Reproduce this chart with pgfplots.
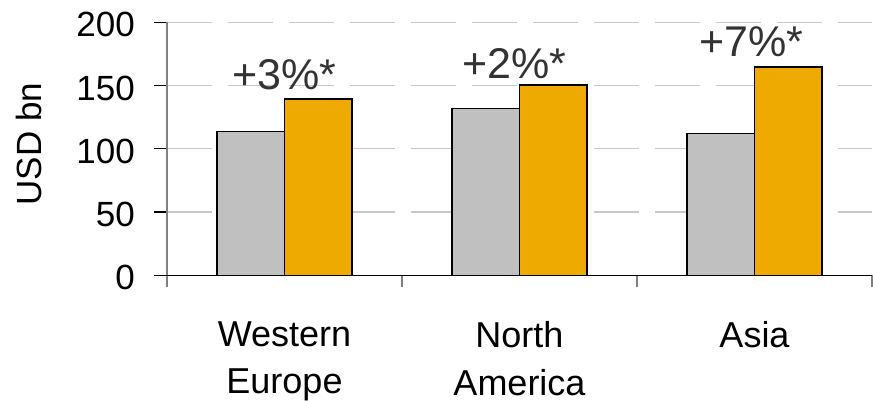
\documentclass[border=0pt]{standalone}
\usepackage{pgfplots}
\pgfplotsset{compat=1.18}
\usepackage{fontspec}
\setmainfont{Liberation Sans}
\definecolor{bargray}{RGB}{192,192,192}
\definecolor{barorange}{RGB}{238,170,0}
\definecolor{gridgray}{RGB}{200,200,200}
\definecolor{labelgray}{RGB}{51,51,51}
\begin{document}
\begin{tikzpicture}
\begin{axis}[name=ax, scale only axis, width=705bp, height=253bp,
    ybar=0pt, bar width=67.5bp,
    xmin=0.5, xmax=3.5, ymin=0, ymax=200,
    axis x line*=bottom, axis y line*=left,
    x axis line style={black, line width=1.2bp},
    y axis line style={gray, line width=1.2bp},
    tick align=outside,
    xtick={1,2,3}, xticklabels={{Western\\Europe},{North\\America},{Asia}},
    minor xtick={0.5,1.5,2.5,3.5},
    major x tick style={draw=none},
    minor x tick style={gray, line width=1.2bp},
    minor tick length=12bp,
    ytick={0,50,...,200}, major tick length=13bp,
    ytick style={black, line width=1.2bp},
    xticklabel style={font={\fontsize{36bp}{47.5bp}\selectfont}, align=center, anchor=north, inner sep=0pt, yshift=-33bp},
    yticklabel style={font={\fontsize{35bp}{42bp}\selectfont}, anchor=east, inner sep=0pt, xshift=-19bp, yshift=-2.5bp},
    /pgf/number format/assume math mode=true,
    ymajorgrids, grid style={gridgray, line width=1.2bp, dash pattern=on 45bp off 16bp},
    every axis plot/.append style={draw=black, line width=1.2bp}]
\addplot[fill=bargray] coordinates {(1,113.5) (2,132) (3,112.2)};
\addplot[fill=barorange] coordinates {(1,139.4) (2,150.4) (3,164.7)};
\node[anchor=base, text=labelgray, font={\fontsize{43bp}{50bp}\selectfont}] at ([yshift=9bp]axis cs:1,139.4) {+3\%*};
\node[anchor=base, text=labelgray, font={\fontsize{43bp}{50bp}\selectfont}] at ([xshift=-5bp,yshift=7bp]axis cs:2,150.4) {+2\%*};
\node[anchor=base, text=labelgray, font={\fontsize{43bp}{50bp}\selectfont}] at ([xshift=-3bp,yshift=10bp]axis cs:3,164.7) {+7\%*};
\end{axis}
\node[rotate=90, anchor=base, font={\fontsize{35bp}{42bp}\selectfont}] at ([xshift=-125bp,yshift=4.8bp]ax.west) {USD bn};
\pgfresetboundingbox
\path ([xshift=-167bp,yshift=-125.7bp]ax.south west) rectangle ([xshift=1bp,yshift=22.3bp]ax.north east);
\end{tikzpicture}
\end{document}
